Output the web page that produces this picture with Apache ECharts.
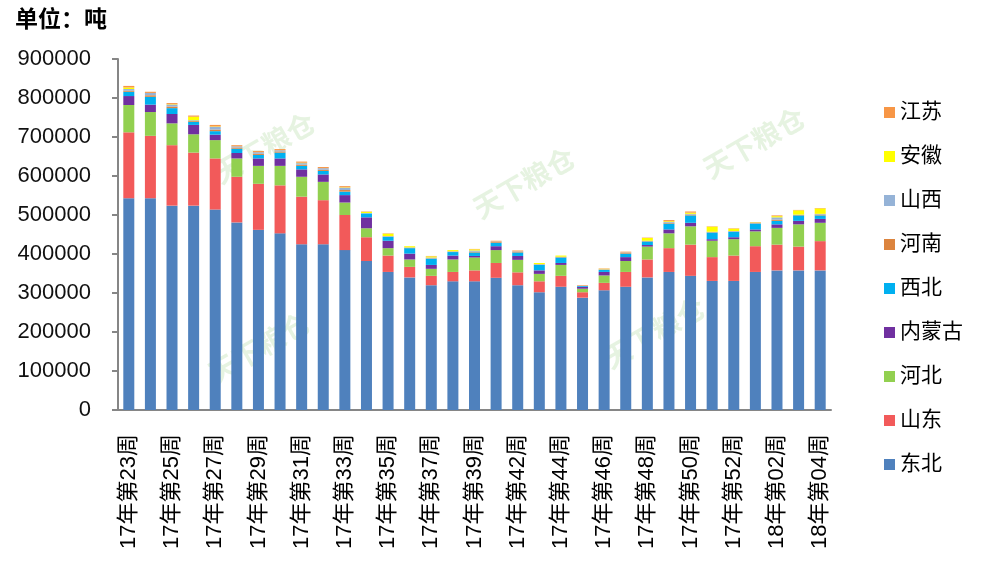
<!DOCTYPE html>
<html>
<head>
<meta charset="utf-8">
<script src="https://cdn.jsdelivr.net/npm/echarts@6/dist/echarts.min.js"></script>
<style>
  html, body { margin: 0; padding: 0; background: #fff; }
  #main { width: 984px; height: 562px; }
</style>
</head>
<body>
<div id="main"></div>
<script>
"use strict";
// week labels (x axis)
const weeks = [
  '17年第23周', '17年第24周', '17年第25周', '17年第26周', '17年第27周', '17年第28周',
  '17年第29周', '17年第30周', '17年第31周', '17年第32周', '17年第33周', '17年第34周',
  '17年第35周', '17年第36周', '17年第37周', '17年第38周', '17年第39周', '17年第41周',
  '17年第42周', '17年第43周', '17年第44周', '17年第45周', '17年第46周', '17年第47周',
  '17年第48周', '17年第49周', '17年第50周', '17年第51周', '17年第52周', '18年第01周',
  '18年第02周', '18年第03周', '18年第04周'
];

// stock by region, tons (bottom of the stack first)
const dongbei = [543000, 543000, 524000, 524000, 514000, 481000, 462000, 453000, 425000, 425000, 410000,
  382000, 354000, 340000, 320000, 330000, 330000, 339000, 320000, 302000, 316000, 288000,
  307000, 316000, 340000, 354000, 344000, 331000, 331000, 354000, 358000, 358000, 358000];
const shandong = [169000, 160000, 155000, 136000, 131000, 117000, 118000, 123000, 122000, 113000, 90000,
  61000, 42000, 27000, 24000, 24000, 28000, 38000, 33000, 28000, 28000, 14000,
  19000, 38000, 46000, 61000, 80000, 61000, 65000, 66000, 66000, 61000, 75000];
const hebei = [70000, 61000, 56000, 47000, 47000, 47000, 46000, 50000, 51000, 47000, 32000,
  23000, 19000, 19000, 18000, 32000, 33000, 33000, 32000, 19000, 28000, 9000,
  19000, 28000, 33000, 38000, 47000, 42000, 42000, 38000, 43000, 57000, 47000];
const neimenggu = [23000, 19000, 24000, 24000, 14000, 14000, 19000, 19000, 19000, 19000, 19000,
  28000, 19000, 15000, 10000, 10000, 4000, 10000, 10000, 9000, 5000, 5000,
  9000, 10000, 4000, 10000, 9000, 4000, 5000, 5000, 9000, 9000, 10000];
const xibei = [11000, 20000, 15000, 8000, 9000, 11000, 9000, 15000, 9000, 9000, 9000,
  10000, 10000, 14000, 16000, 9000, 9000, 9000, 9000, 14000, 14000, 2000,
  5000, 9000, 9000, 15000, 19000, 17000, 14000, 15000, 9000, 14000, 9000];
const henan = [3000, 4000, 4000, 2000, 4000, 3000, 3000, 3000, 3000, 3000, 4000,
  0, 1000, 1000, 1000, 1000, 2000, 2000, 2000, 1000, 1000, 1000,
  1000, 2000, 1000, 2000, 2000, 1000, 1000, 1000, 3000, 1000, 2000];
const shanxi = [4000, 6000, 5000, 2000, 7000, 3000, 4000, 3000, 4000, 4000, 6000,
  1000, 1000, 1000, 2000, 1000, 3000, 1000, 1000, 1000, 1000, 0,
  1000, 1000, 1000, 2000, 2000, 1000, 1000, 1000, 6000, 1000, 2000];
const anhui = [4000, 0, 1000, 9000, 1000, 0, 0, 0, 1000, 0, 1000,
  3000, 6000, 3000, 3000, 3000, 3000, 0, 0, 3000, 3000, 0,
  1000, 0, 7000, 2000, 3000, 13000, 6000, 1000, 3000, 11000, 14000];
const jiangsu = [4000, 3000, 3000, 3000, 4000, 3000, 3000, 3000, 3000, 3000, 3000,
  1000, 1000, 0, 1000, 0, 1000, 2000, 2000, 0, 0, 1000,
  1000, 2000, 1000, 3000, 3000, 1000, 1000, 1000, 2000, 1000, 1000];

const yTicks = [0, 900000, 100000]; // min, max, step

const regions = [
  { name: '东北', data: dongbei, color: '#4F81BD' },
  { name: '山东', data: shandong, color: '#F25A5A' },
  { name: '河北', data: hebei, color: '#92D050' },
  { name: '内蒙古', data: neimenggu, color: '#7030A0' },
  { name: '西北', data: xibei, color: '#00B0F0' },
  { name: '河南', data: henan, color: '#DC843E' },
  { name: '山西', data: shanxi, color: '#95B3D7' },
  { name: '安徽', data: anhui, color: '#FFFF00' },
  { name: '江苏', data: jiangsu, color: '#F79646' }
];

const FONT = '"Liberation Sans", "Noto Sans CJK SC", sans-serif';

// faint site watermarks
const marks = [[270, 130], [530, 165], [760, 125], [265, 330], [660, 315]].map(p => ({
  type: 'text',
  left: p[0] - 60,
  top: p[1] - 20,
  rotation: Math.PI / 6,
  silent: true,
  style: { text: '天下粮仓', fontSize: 28, fontWeight: 'bold', fontFamily: FONT, fill: 'rgba(140,200,120,0.22)' }
}));

const myChart = echarts.init(document.getElementById('main'));
myChart.setOption({
  animation: false,
  backgroundColor: '#fff',
  textStyle: { fontFamily: FONT },
  title: {
    text: '单位：吨',
    left: 10,
    top: 4,
    textStyle: { fontSize: 23, fontWeight: 'bold', color: '#000', fontFamily: FONT }
  },
  graphic: marks,
  legend: {
    orient: 'vertical',
    right: 16,
    top: 97,
    itemWidth: 11,
    itemHeight: 11,
    itemGap: 23,
    icon: 'rect',
    data: regions.map(r => r.name).reverse(),
    textStyle: { fontSize: 21, color: '#000', fontFamily: FONT }
  },
  grid: { left: 118, right: 153, top: 59, bottom: 152 },
  xAxis: {
    type: 'category',
    data: weeks,
    axisLine: { lineStyle: { color: '#868686', width: 2 } },
    axisTick: { interval: 0, length: 6, lineStyle: { color: '#868686', width: 2 } },
    axisLabel: {
      interval: 1,
      rotate: 90,
      margin: 24,
      fontSize: 22,
      color: '#000',
      fontFamily: FONT
    }
  },
  yAxis: {
    type: 'value',
    min: yTicks[0],
    max: yTicks[1],
    interval: yTicks[2],
    splitLine: { show: false },
    axisLine: { show: true, lineStyle: { color: '#868686', width: 2 } },
    axisTick: { show: true, length: 6, lineStyle: { color: '#868686', width: 2 } },
    axisLabel: {
      fontSize: 22,
      color: '#111',
      margin: 27,
      fontFamily: FONT,
      formatter: v => String(v)
    }
  },
  series: regions.map(r => ({
    name: r.name,
    type: 'bar',
    stack: 'total',
    barWidth: 11,
    itemStyle: { color: r.color },
    data: r.data
  }))
});
</script>
</body>
</html>
